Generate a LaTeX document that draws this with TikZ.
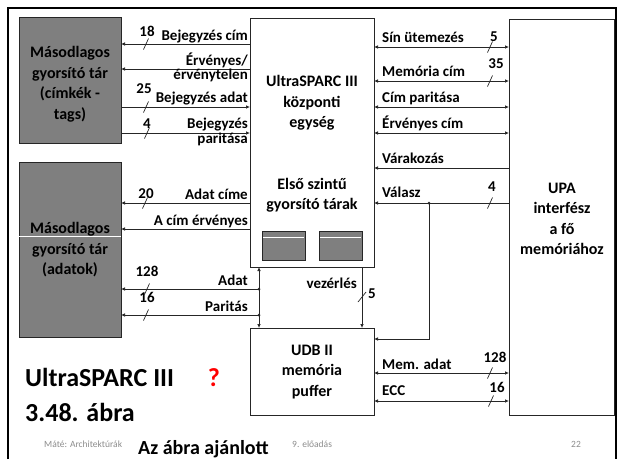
\documentclass[tikz,border=0pt]{standalone}
\usepackage{fontspec}
\setmainfont{Carlito}[BoldFont={Carlito Bold}]
\usetikzlibrary{arrows.meta}
\definecolor{boxgray}{HTML}{7F7F7F}
\definecolor{ln}{HTML}{262626}
\definecolor{foot}{HTML}{8C8C8C}
\definecolor{qred}{HTML}{FF0000}
\newcommand\bustick[2]{\draw[wire] (#1,#2) ++(-2.5,5.5) -- ++(5,-11);}
\begin{document}
\begin{tikzpicture}[x=1pt,y=-1pt,
  box/.style={draw=ln, line width=0.8pt, inner sep=0pt, outer sep=0pt, fill=white},
  gbox/.style={draw=ln, line width=0.8pt, inner sep=0pt, outer sep=0pt, fill=boxgray},
  lab/.style={font=\bfseries\fontsize{15}{17}\selectfont, inner sep=0pt},
  num/.style={font=\bfseries\fontsize{15}{17}\selectfont, inner sep=0pt},
  big/.style={font=\bfseries\fontsize{16}{20.5}\selectfont, align=center, inner sep=0pt},
  wire/.style={draw=ln, line width=0.7pt},
  tip/.style={-{Latex[length=4pt,width=3.5pt]}},
  tips/.style={{Latex[length=4pt,width=3.5pt]}-{Latex[length=4pt,width=3.5pt]}},
  dot/.style={circle, fill=ln, inner sep=0pt, minimum size=3pt},
  foottext/.style={font=\fontsize{9.5}{11}\selectfont, text=foot, inner sep=0pt}
]
\useasboundingbox (0,0) rectangle (618,459);
\fill[white] (0,0) rectangle (618,459);
% slide frame
\draw[black, line width=2.5pt] (8,459) -- (8,8) -- (616,8) -- (616,459);

% boxes
\node[gbox, minimum width=102pt, minimum height=126pt] (tag) at (70,80) {};
\node[gbox, minimum width=102pt, minimum height=175pt] (data) at (70,249.5) {};
\draw[white, line width=1pt] (data.west |- 0,236) -- (data.east |- 0,236);
\node[box, minimum width=124pt, minimum height=249pt] (cpu) at (312,142.5) {};
\node[box, minimum width=105pt, minimum height=396pt] (upa) at (561.5,217) {};
\node[box, minimum width=124pt, minimum height=87pt] (udb) at (312,371.5) {};
\node[gbox, minimum width=43pt, minimum height=29pt] (m1) at (283.5,245.5) {};
\node[gbox, minimum width=43pt, minimum height=29pt] (m2) at (340.5,245.5) {};
\draw[white, line width=0.9pt] ([xshift=1pt]m1.west |- 0,237) -- ([xshift=-1pt]m1.east |- 0,237);
\draw[white, line width=0.9pt] ([xshift=1pt]m2.west |- 0,237) -- ([xshift=-1pt]m2.east |- 0,237);

% box texts
\node[big] (tagt) at (70,84) {Másodlagos\\gyorsító tár\\(címkék -\\tags)};
\node[big] (datat) at (70,250) {Másodlagos\\gyorsító tár\\(adatok)};
\node[big] (cput) at (312,103) {UltraSPARC III\\központi\\egység};
\node[big] (cput2) at (312,195) {Első szintű\\gyorsító tárak};
\node[big] (upat) at (562,219) {UPA\\interfész\\a fő\\memóriához};
\node[big] (udbt) at (312,372) {UDB II\\memória\\puffer};

% left connectors (tag cache)
\draw[wire,tip] (cpu.west |- 0,44) -- (tag.east |- 0,44);
\draw[wire,tip] (cpu.west |- 0,69) -- (tag.east |- 0,69);
\draw[wire,tip] (tag.east |- 0,107) -- (cpu.west |- 0,107);
\draw[wire,tip] (tag.east |- 0,133) -- (cpu.west |- 0,133);
\node[lab, anchor=base east] (l1) at (248,40) {Bejegyzés cím};
\node[lab, anchor=base east] (l2a) at (248,65.5) {Érvényes/};
\node[lab, anchor=base east] (l2b) at (248,79) {érvénytelen};
\node[lab, anchor=base east] (l3) at (248,102) {Bejegyzés adat};
\node[lab, anchor=base east] (l4a) at (248,128) {Bejegyzés};
\node[lab, anchor=base east] (l4b) at (248,143) {paritása};
\node[num, anchor=base] (n18) at (147,36) {18};
\node[num, anchor=base] (n25) at (144,93) {25};
\node[num, anchor=base] (n4) at (147,128) {4};
\bustick{146}{44}
\bustick{146}{107}
\bustick{147}{133}

% left connectors (data cache)
\draw[wire,tip] (cpu.west |- 0,203) -- (data.east |- 0,203);
\draw[wire,tip] (cpu.west |- 0,229) -- (data.east |- 0,229);
\coordinate (jA) at (259,289);
\coordinate (jP) at (259,315);
\draw[wire,tip] (jA) -- (data.east |- jA);
\draw[wire,tip] (jP) -- (data.east |- jP);
\draw[wire,tips] (udb.north -| jA) -- (cpu.south -| jA);
\node[dot] at (jA) {};
\node[dot] at (jP) {};
\node[lab, anchor=base east] (l5) at (248,199) {Adat címe};
\node[lab, anchor=base east] (l6) at (248,225) {A cím érvényes};
\node[lab, anchor=base east] (l7) at (248,285) {Adat};
\node[lab, anchor=base east] (l8) at (248,311) {Paritás};
\node[num, anchor=base] (n20) at (146,198) {20};
\node[num, anchor=base] (n128a) at (147,276) {128};
\node[num, anchor=base] (n16a) at (147,302) {16};
\bustick{145}{203}
\bustick{147}{289}
\bustick{146}{315}

% control
\draw[wire,tip] (cpu.south -| 362,0) -- (udb.north -| 362,0);
\node[lab, anchor=base east] (l9) at (357,288) {vezérlés};
\node[num, anchor=base] (n5b) at (372,298) {5};
\draw[wire] (358,302) -- (366,292);

% right connectors
\draw[wire,tips] (cpu.east |- 0,47) -- (upa.west |- 0,47);
\draw[wire,tips] (cpu.east |- 0,81) -- (upa.west |- 0,81);
\draw[wire,tips] (cpu.east |- 0,107) -- (upa.west |- 0,107);
\draw[wire,tips] (cpu.east |- 0,133) -- (upa.west |- 0,133);
\draw[wire,tip] (upa.west |- 0,168) -- (cpu.east |- 0,168);
\coordinate (jV) at (429,203);
\draw[wire,tip] (upa.west |- jV) -- (cpu.east |- jV);
\draw[wire,tip] (jV) -- (429,339) -- (udb.east |- 0,339);
\node[dot] at (jV) {};
\node[lab, anchor=base west] (r1) at (382,42) {Sín ütemezés};
\node[lab, anchor=base west] (r2) at (382,76) {Memória cím};
\node[lab, anchor=base west] (r3) at (382,102) {Cím paritása};
\node[lab, anchor=base west] (r4) at (382,128) {Érvényes cím};
\node[lab, anchor=base west] (r5) at (382,163) {Várakozás};
\node[lab, anchor=base west] (r6) at (382,197) {Válasz};
\node[num, anchor=base] (n5) at (494,41) {5};
\node[num, anchor=base] (n35) at (496,68) {35};
\node[num, anchor=base] (n4b) at (492,191) {4};
\bustick{490}{47}
\bustick{490}{81}
\bustick{490}{203}

% UDB to UPA
\draw[wire,tips] (udb.east |- 0,373) -- (upa.west |- 0,373);
\draw[wire,tips] (udb.east |- 0,401) -- (upa.west |- 0,401);
\node[lab, anchor=base west] (r7) at (382,369) {Mem. adat};
\node[lab, anchor=base west] (r8) at (382,395) {ECC};
\node[num, anchor=base] (n128b) at (495,362) {128};
\node[num, anchor=base] (n16b) at (497,392) {16};
\bustick{490}{373}
\bustick{491}{401}

% titles and footer
\node[font=\bfseries\fontsize{26}{30}\selectfont, anchor=base west, inner sep=0pt] (title) at (25,386) {UltraSPARC III};
\node[font=\bfseries\fontsize{26}{30}\selectfont, text=qred, anchor=base, inner sep=0pt] (q) at (214,386) {?};
\node[font=\bfseries\fontsize{26}{30}\selectfont, anchor=base west, inner sep=0pt] (fig) at (25,421) {3.48. ábra};
\node[foottext, anchor=base west] (f1) at (44,447) {Máté: Architektúrák};
\node[font=\bfseries\fontsize{20}{24}\selectfont, anchor=base west, inner sep=0pt] (f2) at (138,454) {Az ábra ajánlott};
\node[foottext, anchor=base west] (f3) at (292,447) {9. előadás};
\node[foottext, anchor=base west] (f4) at (571,447) {22};
\end{tikzpicture}
\end{document}
